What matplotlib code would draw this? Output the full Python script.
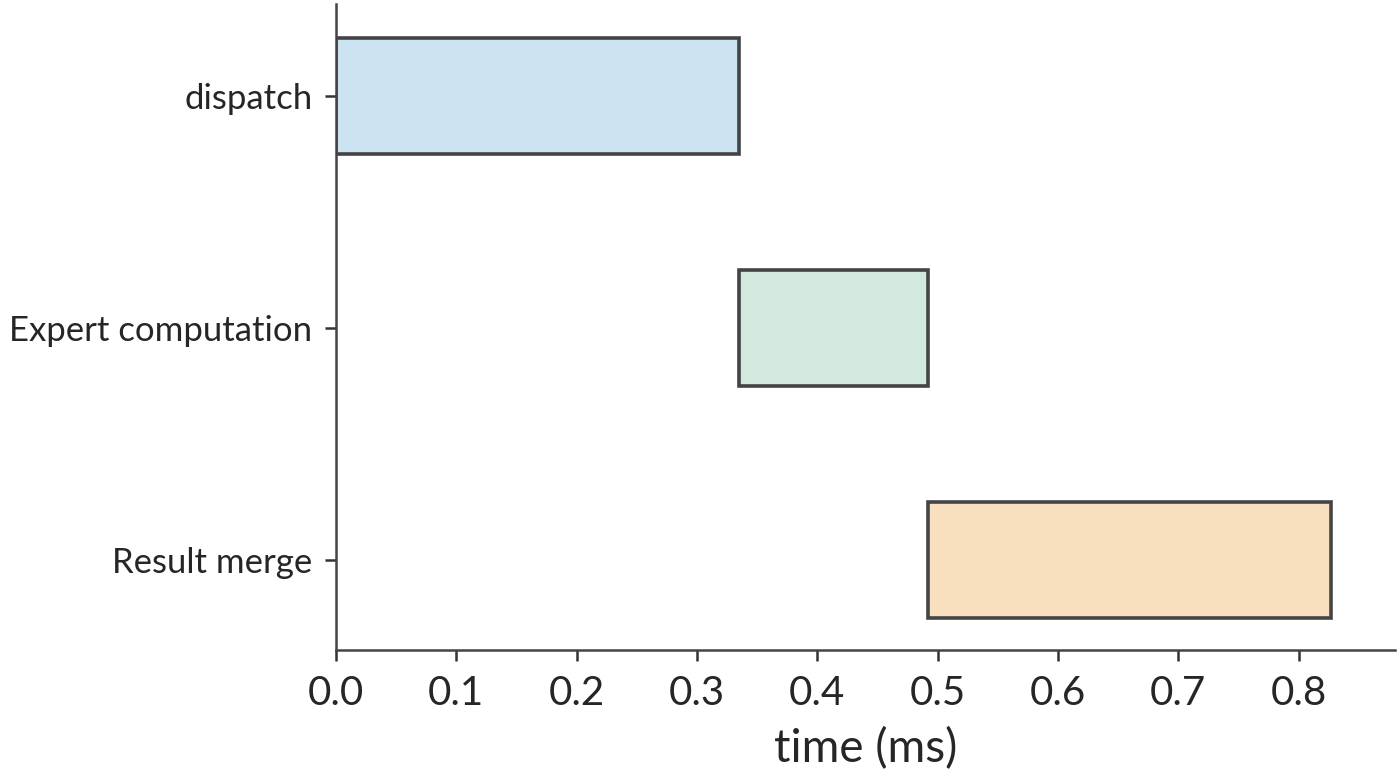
import matplotlib.pyplot as plt

# === DATA ===
stages = ['dispatch', 'Expert computation', 'Result merge']
starts = [0.0, 0.335, 0.492]
ends = [0.335, 0.492, 0.827]
colors = ['#cce3f2', '#d3e9dd', '#f8dfc0']

# === PLOTTING ===
plt.rcParams['font.family'] = ['Lato', 'DejaVu Sans']

fig = plt.figure(figsize=(14, 7.77), dpi=100)
ax = fig.add_axes([0.24, 0.164, 0.7564, 0.831])

durations = [e - s for s, e in zip(starts, ends)]
ax.barh(range(len(stages)), durations, left=starts, height=0.5,
        color=colors, edgecolor='#444444', linewidth=2.6)

ax.set_yticks(range(len(stages)))
ax.set_yticklabels(stages, fontsize=25, color='#262626')
ax.set_ylim(2.384, -0.396)
ax.set_xlim(0, 0.88)
ax.set_xticks([0.0, 0.1, 0.2, 0.3, 0.4, 0.5, 0.6, 0.7, 0.8])
ax.set_xticklabels(['0.0', '0.1', '0.2', '0.3', '0.4', '0.5', '0.6', '0.7', '0.8'],
                   fontsize=29, color='#262626')
ax.set_xlabel('time (ms)', fontsize=33, color='#262626', labelpad=11)

for side in ['top', 'right']:
    ax.spines[side].set_visible(False)
for side in ['left', 'bottom']:
    ax.spines[side].set_color('#444444')
    ax.spines[side].set_linewidth(1.8)
ax.tick_params(axis='both', length=8, width=1.8, color='#333333')
ax.tick_params(axis='x', pad=10)
ax.tick_params(axis='y', pad=9)

plt.savefig('out.png', dpi=100)
